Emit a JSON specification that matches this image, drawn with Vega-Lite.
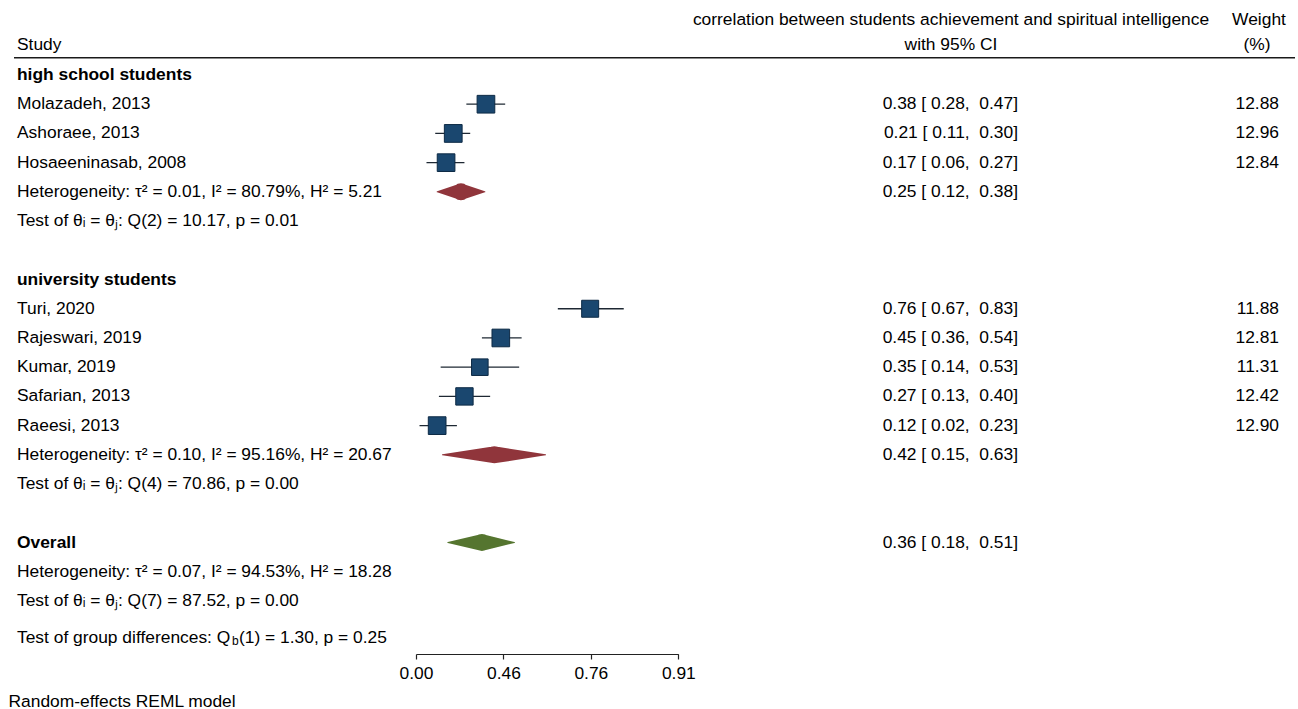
{
  "$schema": "https://vega.github.io/schema/vega-lite/v6.json",
  "width": 1298,
  "height": 654,
  "autosize": {"type": "none"},
  "padding": {"left": 0, "top": 0, "right": 0, "bottom": 55},
  "background": "white",
  "config": {
    "view": {"stroke": null},
    "font": "Liberation Sans",
    "text": {"font": "Liberation Sans", "fontSize": 17.4, "color": "#000000"}
  },
  "datasets": {
    "header": [
      {"row": "top", "ci": "correlation between students achievement and spiritual intelligence", "wt": "Weight"},
      {"row": "hdr", "label": "Study", "ci": "with 95% CI", "wt": "(%)"}
    ],
    "rows": [
      {"row": "g1", "type": "group", "label": "high school students"},
      {"row": "mol", "type": "study", "label": "Molazadeh, 2013", "ci": "0.38 [ 0.28, \u00a00.47]", "weight": 12.88, "est": 0.400, "lo": 0.288, "hi": 0.510},
      {"row": "ash", "type": "study", "label": "Ashoraee, 2013", "ci": "0.21 [ 0.11, \u00a00.30]", "weight": 12.96, "est": 0.213, "lo": 0.110, "hi": 0.310},
      {"row": "hos", "type": "study", "label": "Hosaeeninasab, 2008", "ci": "0.17 [ 0.06, \u00a00.27]", "weight": 12.84, "est": 0.172, "lo": 0.060, "hi": 0.277},
      {"row": "het1", "type": "summary", "label": "Heterogeneity: τ² = 0.01, I² = 80.79%, H² = 5.21", "ci": "0.25 [ 0.12, \u00a00.38]", "est": 0.257, "lo": 0.121, "hi": 0.394},
      {"row": "test1", "type": "note", "label": "Test of θᵢ = θⱼ: Q(2) = 10.17, p = 0.01"},
      {"row": "g2", "type": "group", "label": "university students"},
      {"row": "turi", "type": "study", "label": "Turi, 2020", "ci": "0.76 [ 0.67, \u00a00.83]", "weight": 11.88, "est": 0.996, "lo": 0.811, "hi": 1.188},
      {"row": "raj", "type": "study", "label": "Rajeswari, 2019", "ci": "0.45 [ 0.36, \u00a00.54]", "weight": 12.81, "est": 0.485, "lo": 0.377, "hi": 0.604},
      {"row": "kum", "type": "study", "label": "Kumar, 2019", "ci": "0.35 [ 0.14, \u00a00.53]", "weight": 11.31, "est": 0.365, "lo": 0.141, "hi": 0.590},
      {"row": "saf", "type": "study", "label": "Safarian, 2013", "ci": "0.27 [ 0.13, \u00a00.40]", "weight": 12.42, "est": 0.277, "lo": 0.131, "hi": 0.424},
      {"row": "rae", "type": "study", "label": "Raeesi, 2013", "ci": "0.12 [ 0.02, \u00a00.23]", "weight": 12.90, "est": 0.121, "lo": 0.020, "hi": 0.234},
      {"row": "het2", "type": "summary", "label": "Heterogeneity: τ² = 0.10, I² = 95.16%, H² = 20.67", "ci": "0.42 [ 0.15, \u00a00.63]", "est": 0.448, "lo": 0.151, "hi": 0.741},
      {"row": "test2", "type": "note", "label": "Test of θᵢ = θⱼ: Q(4) = 70.86, p = 0.00"},
      {"row": "ov", "type": "overall", "label": "Overall", "ci": "0.36 [ 0.18, \u00a00.51]", "est": 0.377, "lo": 0.182, "hi": 0.563},
      {"row": "het3", "type": "note", "label": "Heterogeneity: τ² = 0.07, I² = 94.53%, H² = 18.28"},
      {"row": "test3", "type": "note", "label": "Test of θᵢ = θⱼ: Q(7) = 87.52, p = 0.00"},
      {"row": "gd", "type": "gdiff", "label": "Test of group differences: Q", "sub": "b", "rest": "(1) = 1.30, p = 0.25"}
    ]
  },
  "encoding": {
    "y": {
      "field": "row",
      "type": "ordinal",
      "scale": {
        "type": "band",
        "domain": ["top", "hdr", "g1", "mol", "ash", "hos", "het1", "test1", "b1", "g2", "turi", "raj", "kum", "saf", "rae", "het2", "test2", "b2", "ov", "het3", "test3", "gd"],
        "paddingInner": 0,
        "paddingOuter": 0.191,
        "align": 0.174
      },
      "axis": null
    }
  },
  "layer": [
    {
      "data": {"name": "header"},
      "transform": [{"filter": "isValid(datum.label)"}],
      "mark": {"type": "text", "align": "left", "baseline": "middle", "fontSize": 17.4, "yOffset": -1},
      "encoding": {"x": {"value": 17}, "text": {"field": "label"}}
    },
    {
      "data": {"name": "header"},
      "transform": [{"filter": "datum.row === 'top'"}],
      "mark": {"type": "text", "align": "center", "baseline": "middle", "fontSize": 17.4, "yOffset": 3},
      "encoding": {"x": {"value": 951}, "text": {"field": "ci"}}
    },
    {
      "data": {"name": "header"},
      "transform": [{"filter": "datum.row === 'top'"}],
      "mark": {"type": "text", "align": "center", "baseline": "middle", "fontSize": 17.4, "yOffset": 3},
      "encoding": {"x": {"value": 1259}, "text": {"field": "wt"}}
    },
    {
      "data": {"name": "header"},
      "transform": [{"filter": "datum.row === 'hdr'"}],
      "mark": {"type": "text", "align": "center", "baseline": "middle", "fontSize": 17.4, "yOffset": -1},
      "encoding": {"x": {"value": 951}, "text": {"field": "ci"}}
    },
    {
      "data": {"name": "header"},
      "transform": [{"filter": "datum.row === 'hdr'"}],
      "mark": {"type": "text", "align": "center", "baseline": "middle", "fontSize": 17.4, "yOffset": -1},
      "encoding": {"x": {"value": 1257}, "text": {"field": "wt"}}
    },
    {
      "data": {"values": [{"row": "hdr"}]},
      "mark": {"type": "rule", "color": "#1a1a1a", "strokeWidth": 1.6, "yOffset": 12},
      "encoding": {"x": {"value": 14}, "x2": {"value": 1295}}
    },
    {
      "data": {"name": "rows"},
      "transform": [{"filter": "datum.type !== 'gdiff' && datum.type !== 'group' && datum.type !== 'overall'"}],
      "mark": {"type": "text", "align": "left", "baseline": "middle", "fontSize": 17.4},
      "encoding": {"x": {"value": 17}, "text": {"field": "label"}}
    },
    {
      "data": {"name": "rows"},
      "transform": [{"filter": "datum.type === 'group' || datum.type === 'overall'"}],
      "mark": {"type": "text", "align": "left", "baseline": "middle", "fontSize": 17.4, "fontWeight": "bold"},
      "encoding": {"x": {"value": 17}, "text": {"field": "label"}}
    },
    {
      "data": {"name": "rows"},
      "transform": [{"filter": "datum.type === 'gdiff'"}],
      "mark": {"type": "text", "align": "left", "baseline": "middle", "fontSize": 17.4, "yOffset": 7.5},
      "encoding": {"x": {"value": 17}, "text": {"field": "label"}}
    },
    {
      "data": {"name": "rows"},
      "transform": [{"filter": "datum.type === 'gdiff'"}],
      "mark": {"type": "text", "align": "left", "baseline": "middle", "fontSize": 12, "yOffset": 11},
      "encoding": {"x": {"value": 232}, "text": {"field": "sub"}}
    },
    {
      "data": {"name": "rows"},
      "transform": [{"filter": "datum.type === 'gdiff'"}],
      "mark": {"type": "text", "align": "left", "baseline": "middle", "fontSize": 17.4, "yOffset": 7.5},
      "encoding": {"x": {"value": 239}, "text": {"field": "rest"}}
    },
    {
      "data": {"name": "rows"},
      "transform": [{"filter": "datum.type === 'study'"}],
      "mark": {"type": "rule", "color": "#1e2833", "strokeWidth": 1.3},
      "encoding": {
        "x": {
          "field": "lo",
          "type": "quantitative",
          "scale": {"domain": [0, 1.5], "range": [416, 678.3], "nice": false, "zero": false},
          "axis": {
            "values": [0, 0.5, 1, 1.5],
            "labelExpr": "format((exp(2*datum.value)-1)/(exp(2*datum.value)+1), '.2f')",
            "grid": false,
            "domain": true,
            "domainColor": "#222222",
            "domainWidth": 1.2,
            "ticks": true,
            "tickColor": "#222222",
            "tickWidth": 1.2,
            "tickSize": 5,
            "labelFont": "Liberation Sans",
            "labelFontSize": 17.4,
            "labelColor": "#000000",
            "labelPadding": 5,
            "labelFlush": false,
            "labelOverlap": false,
            "title": "Random-effects REML model",
            "titleFont": "Liberation Sans",
            "titleFontSize": 17.4,
            "titleFontWeight": "normal",
            "titleColor": "#000000",
            "titleX": 8,
            "titleY": 47,
            "titleAlign": "left",
            "titleAnchor": "start",
            "titleBaseline": "middle"
          }
        },
        "x2": {"field": "hi"}
      }
    },
    {
      "data": {"name": "rows"},
      "transform": [{"filter": "datum.type === 'study'"}],
      "mark": {"type": "square", "fill": "#1a476f", "stroke": "#0d2a45", "strokeWidth": 1, "opacity": 1},
      "encoding": {
        "x": {"field": "est", "type": "quantitative", "scale": {"domain": [0, 1.5], "range": [416, 678.3], "nice": false, "zero": false}, "title": "Random-effects REML model"},
        "size": {"field": "weight", "type": "quantitative", "scale": {"type": "linear", "domain": [0, 13], "range": [0, 316], "zero": true}, "legend": null}
      }
    },
    {
      "data": {"name": "rows"},
      "transform": [
        {"filter": "datum.type === 'summary' || datum.type === 'overall'"},
        {"fold": ["lo", "est", "hi"], "as": ["key", "zval"]}
      ],
      "mark": {"type": "trail", "opacity": 1},
      "encoding": {
        "x": {"field": "zval", "type": "quantitative", "scale": {"domain": [0, 1.5], "range": [416, 678.3], "nice": false, "zero": false}, "title": "Random-effects REML model"},
        "size": {"field": "key", "type": "nominal", "scale": {"type": "ordinal", "domain": ["lo", "est", "hi"], "range": [0, 17, 0]}, "legend": null},
        "detail": {"field": "row"},
        "order": {"field": "zval", "type": "quantitative"},
        "color": {"field": "type", "type": "nominal", "scale": {"domain": ["summary", "overall"], "range": ["#90353b", "#55752f"]}, "legend": null}
      }
    },
    {
      "data": {"name": "rows"},
      "transform": [{"filter": "isValid(datum.ci)"}],
      "mark": {"type": "text", "align": "right", "baseline": "middle", "fontSize": 17.4},
      "encoding": {"x": {"value": 1018}, "text": {"field": "ci"}}
    },
    {
      "data": {"name": "rows"},
      "transform": [{"filter": "isValid(datum.weight)"}],
      "mark": {"type": "text", "align": "right", "baseline": "middle", "fontSize": 17.4},
      "encoding": {"x": {"value": 1279}, "text": {"field": "weight", "type": "quantitative", "format": ".2f"}}
    }
  ]
}
